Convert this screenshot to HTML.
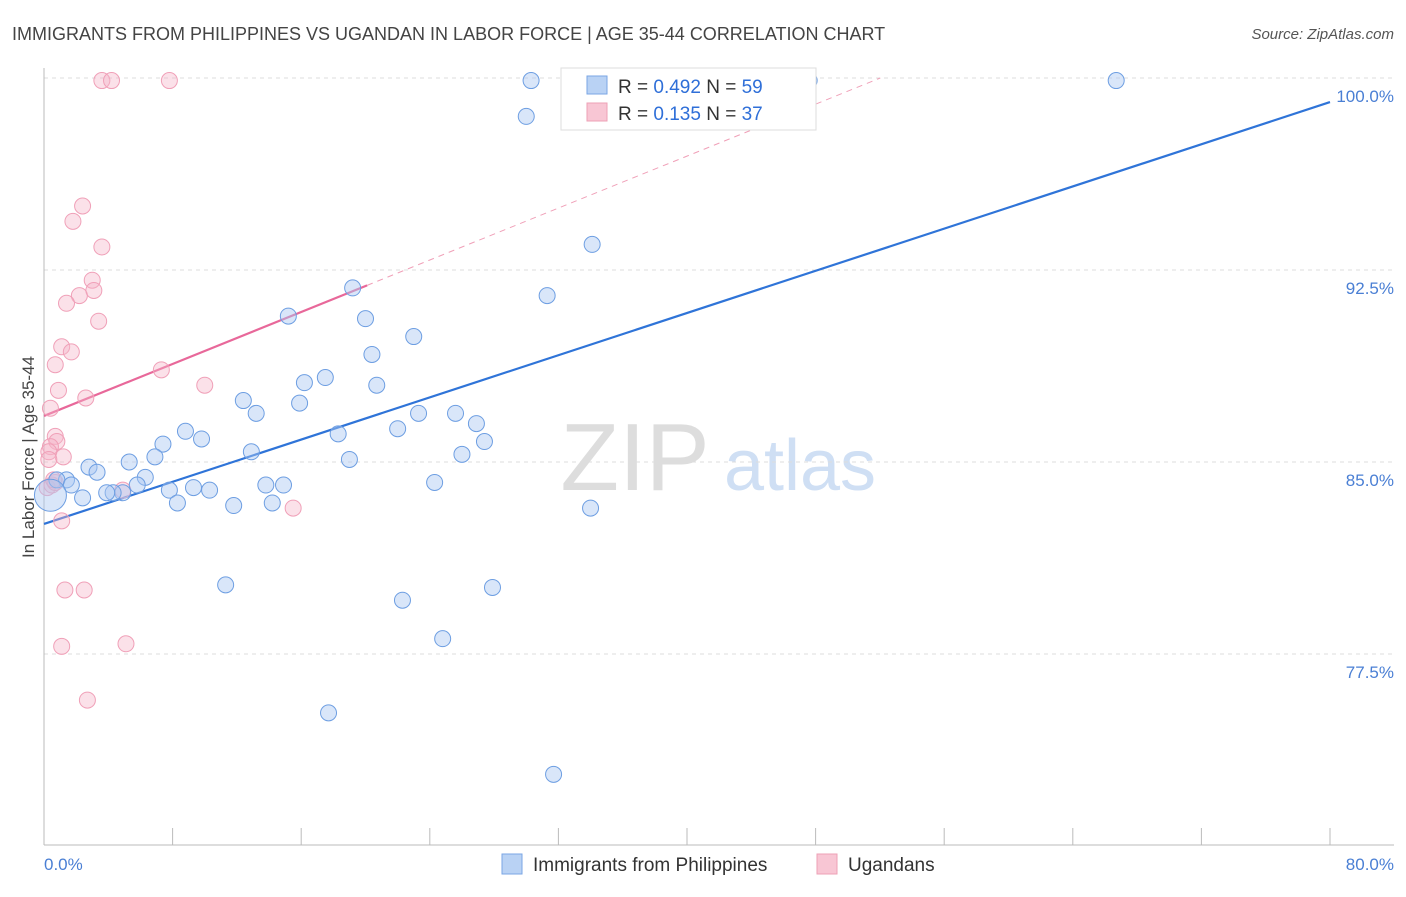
<!DOCTYPE html>
<html><head><meta charset="utf-8"><style>
body{margin:0;background:#fff;font-family:"Liberation Sans",sans-serif}
svg text{font-family:"Liberation Sans",sans-serif}
</style></head><body>
<svg id="chart" width="1406" height="892" viewBox="0 0 1406 892" xmlns="http://www.w3.org/2000/svg">
<text x="12" y="40" font-size="18" fill="#444">IMMIGRANTS FROM PHILIPPINES VS UGANDAN IN LABOR FORCE | AGE 35-44 CORRELATION CHART</text>
<text x="1394" y="39" font-size="15" fill="#555" text-anchor="end" font-style="italic">Source: ZipAtlas.com</text>
<g>
<text x="635" y="490" font-size="96" fill="#ddd" text-anchor="middle" font-family="Liberation Serif">ZIP</text>
<text x="800" y="490" font-size="72" fill="#cfdff4" text-anchor="middle">atlas</text>
</g>
<g id="grid"></g>
<g id="axes"></g>
<g id="trends"></g>
<g id="pts"></g>
<text transform="translate(34,457) rotate(-90)" font-size="17" fill="#444" text-anchor="middle">In Labor Force | Age 35-44</text>
<text x="44" y="870" font-size="17" fill="#4a7fd4">0.0%</text>
<text x="1394" y="870" font-size="17" fill="#4a7fd4" text-anchor="end">80.0%</text>
<g>
<rect x="561" y="68" width="255" height="62" fill="#fff" stroke="#ddd"/>
<rect x="587" y="76" width="20" height="18" fill="#b9d2f4" stroke="#7aa6e4"/>
<text x="618" y="93" font-size="19" fill="#333">R = <tspan fill="#2f6fd8">0.492</tspan>   N = <tspan fill="#2f6fd8">59</tspan></text>
<rect x="587" y="103" width="20" height="18" fill="#f8c6d4" stroke="#eea0b6"/>
<text x="618" y="120" font-size="19" fill="#333">R =  <tspan fill="#2f6fd8">0.135</tspan>   N = <tspan fill="#2f6fd8">37</tspan></text>
</g>
<g>
<rect x="502" y="854" width="20" height="20" fill="#b9d2f4" stroke="#7aa6e4"/>
<text x="533" y="871" font-size="19" fill="#333">Immigrants from Philippines</text>
<rect x="817" y="854" width="20" height="20" fill="#f8c6d4" stroke="#eea0b6"/>
<text x="848" y="871" font-size="19" fill="#333">Ugandans</text>
</g>
</svg>
<script>
const yTicks=[100,92.5,85,77.5];
const yTickLabels=["100.0%","92.5%","85.0%","77.5%"];
const xTicks=[0,8,16,24,32,40,48,56,64,72,80];
const blueX=[30.3,30.0,47.6,66.7,34.1,31.3,19.2,15.2,20.0,23.0,20.4,17.5,16.2,20.7,12.4,15.9,13.2,18.3,23.3,25.6,26.9,22.0,27.4,26.0,8.8,9.8,7.4,6.9,5.3,2.8,3.3,6.3,5.8,7.8,9.3,10.3,12.9,19.0,13.8,14.9,24.3,11.8,14.2,8.3,4.9,4.3,3.9,2.4,1.4,0.8,1.7,34.0,11.3,22.3,27.9,24.8,17.7,31.7,0.4];
const blueY=[99.9,98.5,99.9,99.9,93.5,91.5,91.8,90.7,90.6,89.9,89.2,88.3,88.1,88.0,87.4,87.3,86.9,86.1,86.9,86.9,86.5,86.3,85.8,85.3,86.2,85.9,85.7,85.2,85.0,84.8,84.6,84.4,84.1,83.9,84.0,83.9,85.4,85.1,84.1,84.1,84.2,83.3,83.4,83.4,83.8,83.8,83.8,83.6,84.3,84.3,84.1,83.2,80.2,79.6,80.1,78.1,75.2,72.8,83.7];
const pinkX=[3.6,4.2,7.8,2.4,1.8,3.6,3.0,3.1,2.2,1.4,3.4,1.1,1.7,0.7,7.3,10.0,0.9,2.6,0.4,0.7,0.8,0.4,0.3,1.2,0.2,0.5,4.9,0.7,15.5,1.1,1.3,2.5,1.1,5.1,2.7,0.6,0.3];
const pinkY=[99.9,99.9,99.9,95.0,94.4,93.4,92.1,91.7,91.5,91.2,90.5,89.5,89.3,88.8,88.6,88.0,87.8,87.5,87.1,86.0,85.8,85.6,85.4,85.2,84.0,84.1,83.9,84.2,83.2,82.7,80.0,80.0,77.8,77.9,75.7,84.3,85.1];
const blueTrend=[82.58,99.06]; // y at x=0 and x=80
const pinkTrend=[86.8,91.9,20.1]; // y at 0, y at solid end, solid end x
const X=v=>44+v/80*1286, Y=v=>78+(100-v)/7.5*192;
const NS="http://www.w3.org/2000/svg";
function mk(tag,attrs,parent){const e=document.createElementNS(NS,tag);for(const k in attrs)e.setAttribute(k,attrs[k]);document.getElementById(parent).appendChild(e);return e;}
yTicks.forEach((t,i)=>{
 const l=mk('line',{x1:44,x2:1394,y1:Y(t),y2:Y(t),stroke:'#ddd','stroke-dasharray':'4,4'},'grid');
 
 
 const tx=mk('text',{x:1394,y:Y(t)+24,'font-size':17,fill:'#4a7fd4','text-anchor':'end'},'grid');
 tx.textContent=yTickLabels[i];
 
 
});
let a=mk('line',{x1:44,x2:44,y1:68,y2:845,stroke:'#bbb'},'axes');


a=mk('line',{x1:44,x2:1394,y1:845,y2:845,stroke:'#bbb'},'axes');


xTicks.forEach(t=>{
 const l=mk('line',{x1:X(t),x2:X(t),y1:828,y2:845,stroke:'#bbb'},'axes');
 
 
});
let tl=mk('line',{x1:X(0),y1:Y(blueTrend[0]),x2:X(80),y2:Y(blueTrend[1]),stroke:'#2f74d8','stroke-width':2.2},'trends');


const ps=(pinkTrend[1]-pinkTrend[0])/pinkTrend[2];
const xe=Math.min(80,(100-pinkTrend[0])/ps);
tl=mk('line',{x1:X(pinkTrend[2]),y1:Y(pinkTrend[1]),x2:X(xe),y2:Y(pinkTrend[0]+ps*xe),stroke:'#f0a0b8','stroke-width':1,'stroke-dasharray':'6,5'},'trends');


tl=mk('line',{x1:X(0),y1:Y(pinkTrend[0]),x2:X(pinkTrend[2]),y2:Y(pinkTrend[1]),stroke:'#e8689a','stroke-width':2.2},'trends');


pinkX.forEach((v,i)=>{
 const c=mk('circle',{cx:X(v),cy:Y(pinkY[i]),r:8,fill:'rgba(246,180,200,0.4)',stroke:'#f0a0b8','stroke-width':1},'pts');
 
 
});
blueX.forEach((v,i)=>{
 const r=i===blueX.length-1?16:8;
 const c=mk('circle',{cx:X(v),cy:Y(blueY[i]),r:r,fill:'rgba(170,200,242,0.45)',stroke:'#6d9ee2','stroke-width':1},'pts');
 
 
});
</script>
</body></html>
